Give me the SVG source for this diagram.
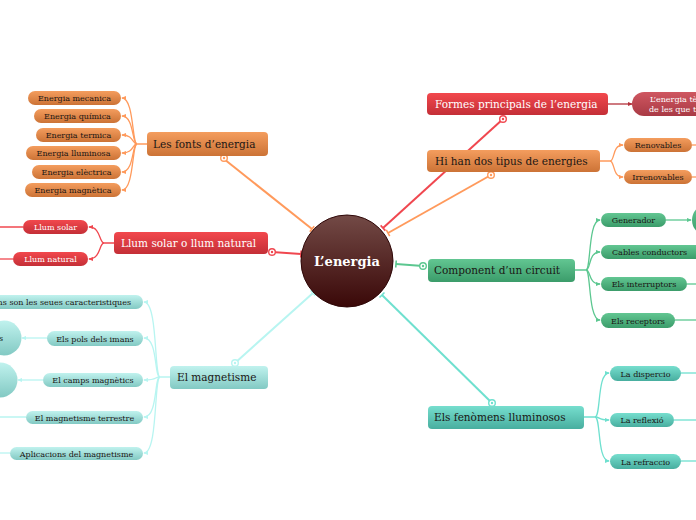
<svg xmlns="http://www.w3.org/2000/svg" width="696" height="520" viewBox="0 0 696 520">
<style>
text{font-family:"DejaVu Serif","Liberation Serif",serif}
.main{font-size:10.5px}
.sm{font-size:8px}
.dk{fill:#1a1614}
.wt{fill:#ffffff}
.ln{fill:none;stroke-width:2}
.br{fill:none;stroke-width:1.3}
.o{stroke:#ff9a5c}
.r{stroke:#f0474f}
.g{stroke:#5cc790}
.t{stroke:#6fe0cf}
.c{stroke:#b8f5f1}
.dr{stroke:#b3323c}
.ring{fill:#fff;stroke-width:1.4}
</style>
<defs>
<linearGradient id="gO" x1="0" y1="0" x2="0" y2="1"><stop offset="0" stop-color="#f49d5e"/><stop offset="1" stop-color="#cc7336"/></linearGradient>
<linearGradient id="gR" x1="0" y1="0" x2="0" y2="1"><stop offset="0" stop-color="#f2484d"/><stop offset="1" stop-color="#c42f37"/></linearGradient>
<linearGradient id="gDR" x1="0" y1="0" x2="0" y2="1"><stop offset="0" stop-color="#cf5761"/><stop offset="1" stop-color="#a93a45"/></linearGradient>
<linearGradient id="gG" x1="0" y1="0" x2="0" y2="1"><stop offset="0" stop-color="#62c692"/><stop offset="1" stop-color="#3b9c6a"/></linearGradient>
<linearGradient id="gT" x1="0" y1="0" x2="0" y2="1"><stop offset="0" stop-color="#76dece"/><stop offset="1" stop-color="#48ae9f"/></linearGradient>
<linearGradient id="gC" x1="0" y1="0" x2="0" y2="1"><stop offset="0" stop-color="#c0f2ee"/><stop offset="1" stop-color="#82c9c3"/></linearGradient>
<linearGradient id="gCirc" x1="0" y1="0" x2="0" y2="1"><stop offset="0" stop-color="#734a46"/><stop offset="1" stop-color="#3a0808"/></linearGradient>
<marker id="tkO" viewBox="0 0 10 10" refX="5" refY="5" markerWidth="10" markerHeight="10" markerUnits="userSpaceOnUse" orient="auto"><path d="M5,1.5V8.5" stroke="#ff9a5c" stroke-width="1.6"/></marker>
<marker id="tkR" viewBox="0 0 10 10" refX="5" refY="5" markerWidth="10" markerHeight="10" markerUnits="userSpaceOnUse" orient="auto"><path d="M5,1.5V8.5" stroke="#f0474f" stroke-width="1.6"/></marker>
<marker id="tkG" viewBox="0 0 10 10" refX="5" refY="5" markerWidth="10" markerHeight="10" markerUnits="userSpaceOnUse" orient="auto"><path d="M5,1.5V8.5" stroke="#5cc790" stroke-width="1.6"/></marker>
<marker id="tkT" viewBox="0 0 10 10" refX="5" refY="5" markerWidth="10" markerHeight="10" markerUnits="userSpaceOnUse" orient="auto"><path d="M5,1.5V8.5" stroke="#6fe0cf" stroke-width="1.6"/></marker>
<marker id="tkC" viewBox="0 0 10 10" refX="5" refY="5" markerWidth="10" markerHeight="10" markerUnits="userSpaceOnUse" orient="auto"><path d="M5,1.5V8.5" stroke="#b8f5f1" stroke-width="1.6"/></marker>
<marker id="aO" viewBox="0 0 6 6" refX="5" refY="3" markerWidth="5" markerHeight="5" markerUnits="userSpaceOnUse" orient="auto"><path d="M0,0.5L6,3L0,5.5z" fill="#ff9a5c"/></marker>
<marker id="aR" viewBox="0 0 6 6" refX="5" refY="3" markerWidth="5" markerHeight="5" markerUnits="userSpaceOnUse" orient="auto"><path d="M0,0.5L6,3L0,5.5z" fill="#f0474f"/></marker>
<marker id="aDR" viewBox="0 0 6 6" refX="5" refY="3" markerWidth="5" markerHeight="5" markerUnits="userSpaceOnUse" orient="auto"><path d="M0,0.5L6,3L0,5.5z" fill="#b3323c"/></marker>
<marker id="aG" viewBox="0 0 6 6" refX="5" refY="3" markerWidth="5" markerHeight="5" markerUnits="userSpaceOnUse" orient="auto"><path d="M0,0.5L6,3L0,5.5z" fill="#5cc790"/></marker>
<marker id="aT" viewBox="0 0 6 6" refX="5" refY="3" markerWidth="5" markerHeight="5" markerUnits="userSpaceOnUse" orient="auto"><path d="M0,0.5L6,3L0,5.5z" fill="#6fe0cf"/></marker>
<marker id="aC" viewBox="0 0 6 6" refX="5" refY="3" markerWidth="5" markerHeight="5" markerUnits="userSpaceOnUse" orient="auto"><path d="M0,0.5L6,3L0,5.5z" fill="#b8f5f1"/></marker>
</defs>
<rect width="696" height="520" fill="#ffffff"/>

<g id="connectors">
  <path class="ln o" d="M224,159L312,229" marker-end="url(#tkO)"/>
  <path class="ln r" d="M272,252L301,254" marker-end="url(#tkR)"/>
  <path class="ln c" d="M235,363L313,293" marker-end="url(#tkC)"/>
  <path class="ln r" d="M503,119L383,228" marker-end="url(#tkR)"/>
  <path class="ln o" d="M491,175L388,233" marker-end="url(#tkO)"/>
  <path class="ln g" d="M423,266L396,264" marker-end="url(#tkG)"/>
  <path class="ln t" d="M492,403L382,295" marker-end="url(#tkT)"/>
  <circle class="ring o" cx="224" cy="158" r="3.3"/><circle cx="224" cy="158" r="1.2" fill="#ff9a5c"/>
  <circle class="ring r" cx="272" cy="252" r="3.3"/><circle cx="272" cy="252" r="1.2" fill="#f0474f"/>
  <circle class="ring c" cx="235" cy="363" r="3.3"/><circle cx="235" cy="363" r="1.2" fill="#b8f5f1"/>
  <circle class="ring r" cx="503" cy="119" r="3.3"/><circle cx="503" cy="119" r="1.2" fill="#f0474f"/>
  <circle class="ring o" cx="491" cy="175" r="3.3"/><circle cx="491" cy="175" r="1.2" fill="#ff9a5c"/>
  <circle class="ring g" cx="423" cy="266" r="3.3"/><circle cx="423" cy="266" r="1.2" fill="#5cc790"/>
  <circle class="ring t" cx="492" cy="403" r="3.3"/><circle cx="492" cy="403" r="1.2" fill="#6fe0cf"/>

  <path class="br o" d="M147,144L137,144C132,144 134,98 122,98" marker-end="url(#aO)"/>
  <path class="br o" d="M137,144C132,144 134,116 122,116" marker-end="url(#aO)"/>
  <path class="br o" d="M137,144C132,144 134,135 122,135" marker-end="url(#aO)"/>
  <path class="br o" d="M137,144C132,144 134,153 122,153" marker-end="url(#aO)"/>
  <path class="br o" d="M137,144C132,144 134,172 122,172" marker-end="url(#aO)"/>
  <path class="br o" d="M137,144C132,144 134,190 122,190" marker-end="url(#aO)"/>

  <path class="br r" d="M114,243L104,243C99,243 101,227 89,227" marker-end="url(#aR)"/>
  <path class="br r" d="M104,243C99,243 101,259 89,259" marker-end="url(#aR)"/>
  <path class="br r" d="M23,227L-10,227"/>
  <path class="br r" d="M13,259L-10,259"/>

  <path class="br c" d="M170,377L160,377C154,377 158,302 144,302" marker-end="url(#aC)"/>
  <path class="br c" d="M160,377C154,377 158,338 144,338" marker-end="url(#aC)"/>
  <path class="br c" d="M160,377C154,377 158,380 144,380" marker-end="url(#aC)"/>
  <path class="br c" d="M160,377C154,377 158,417 144,417" marker-end="url(#aC)"/>
  <path class="br c" d="M160,377C154,377 158,453 144,453" marker-end="url(#aC)"/>
  <path class="br c" d="M47,338L22,338" marker-end="url(#aC)"/>
  <path class="br c" d="M43,380L18,380" marker-end="url(#aC)"/>
  <path class="br c" d="M26,417L-10,417"/>
  <path class="br c" d="M10,453L-10,453"/>

  <path class="br dr" d="M608,104L632,104" marker-end="url(#aDR)"/>

  <path class="br o" d="M600,161L610,161C615,161 612,145 623,145" marker-end="url(#aO)"/>
  <path class="br o" d="M610,161C615,161 612,177 623,177" marker-end="url(#aO)"/>
  <path class="br o" d="M692,145L706,145"/>
  <path class="br o" d="M692,177L706,177"/>

  <path class="br g" d="M575,270L586,270C591,270 588,220 600,220" marker-end="url(#aG)"/>
  <path class="br g" d="M586,270C591,270 588,252 600,252" marker-end="url(#aG)"/>
  <path class="br g" d="M586,270C591,270 588,284 600,284" marker-end="url(#aG)"/>
  <path class="br g" d="M586,270C591,270 588,320 600,320" marker-end="url(#aG)"/>
  <path class="br g" d="M666,220L691,220" marker-end="url(#aG)"/>
  <path class="br g" d="M687,284L706,284"/>
  <path class="br g" d="M675,320L706,320"/>

  <path class="br t" d="M584,417L595,417C601,417 597,373 609,373" marker-end="url(#aT)"/>
  <path class="br t" d="M595,417C601,417 597,420 609,420" marker-end="url(#aT)"/>
  <path class="br t" d="M595,417C601,417 597,461 609,461" marker-end="url(#aT)"/>
  <path class="br t" d="M681,373L706,373"/>
  <path class="br t" d="M674,420L706,420"/>
  <path class="br t" d="M681,461L706,461"/>
</g>

<g id="center">
  <circle cx="347" cy="261" r="46" fill="url(#gCirc)" stroke="#2e0707" stroke-width="1"/>
  <text x="347" y="266" text-anchor="middle" class="wt" style="font-size:13px;font-weight:bold">L’energia</text>
</g>

<g id="fonts">
  <rect x="147" y="132" width="121" height="24" rx="4" fill="url(#gO)"/>
  <text x="153" y="148" class="main dk">Les fonts d’energia</text>
</g>
<g id="fonts-c1"><rect x="28" y="91" width="93" height="14" rx="7" fill="url(#gO)"/><text x="74.5" y="101" text-anchor="middle" class="sm dk">Energia mecanica</text></g>
<g id="fonts-c2"><rect x="34" y="109" width="87" height="14" rx="7" fill="url(#gO)"/><text x="77.5" y="119" text-anchor="middle" class="sm dk">Energia química</text></g>
<g id="fonts-c3"><rect x="36" y="128" width="85" height="14" rx="7" fill="url(#gO)"/><text x="78.5" y="138" text-anchor="middle" class="sm dk">Energia termica</text></g>
<g id="fonts-c4"><rect x="26" y="146" width="95" height="14" rx="7" fill="url(#gO)"/><text x="73.5" y="156" text-anchor="middle" class="sm dk">Energia lluminosa</text></g>
<g id="fonts-c5"><rect x="32" y="165" width="89" height="14" rx="7" fill="url(#gO)"/><text x="76.5" y="175" text-anchor="middle" class="sm dk">Energia elèctrica</text></g>
<g id="fonts-c6"><rect x="25" y="183" width="96" height="14" rx="7" fill="url(#gO)"/><text x="73" y="193" text-anchor="middle" class="sm dk">Energia magnètica</text></g>

<g id="llum">
  <rect x="114" y="232" width="154" height="22" rx="4" fill="url(#gR)"/>
  <text x="121" y="247" class="main wt">Llum solar o llum natural</text>
</g>
<g id="llum-c1"><rect x="23" y="220" width="65" height="14" rx="7" fill="url(#gR)"/><text x="55.5" y="230" text-anchor="middle" class="sm wt">Llum solar</text></g>
<g id="llum-c2"><rect x="13" y="252" width="75" height="14" rx="7" fill="url(#gR)"/><text x="50.5" y="262" text-anchor="middle" class="sm wt">Llum natural</text></g>

<g id="magnetisme">
  <rect x="170" y="366" width="98" height="23" rx="4" fill="url(#gC)"/>
  <text x="177" y="381" class="main dk">El magnetisme</text>
</g>
<g id="mag-c1"><rect x="-60" y="295" width="203" height="14" rx="7" fill="url(#gC)"/><text x="131" y="305" text-anchor="end" class="sm dk">ins son les seues caracteristiques</text></g>
<g id="mag-c2"><rect x="47" y="331" width="96" height="15" rx="7.5" fill="url(#gC)"/><text x="95" y="341.5" text-anchor="middle" class="sm dk">Els pols dels imans</text></g>
<g id="mag-c2a"><circle cx="4" cy="338" r="17.5" fill="url(#gC)"/><text x="-1" y="341" class="sm dk">s</text></g>
<g id="mag-c3"><rect x="43" y="373" width="100" height="14" rx="7" fill="url(#gC)"/><text x="93" y="383" text-anchor="middle" class="sm dk">El camps magnètics</text></g>
<g id="mag-c3a"><circle cx="0" cy="380" r="17.5" fill="url(#gC)"/></g>
<g id="mag-c4"><rect x="26" y="411" width="117" height="13" rx="6.5" fill="url(#gC)"/><text x="84.5" y="420.5" text-anchor="middle" class="sm dk">El magnetisme terrestre</text></g>
<g id="mag-c5"><rect x="10" y="447" width="133" height="13" rx="6.5" fill="url(#gC)"/><text x="76.5" y="456.5" text-anchor="middle" class="sm dk">Aplicacions del magnetisme</text></g>

<g id="formes">
  <rect x="427" y="93" width="181" height="22" rx="4" fill="url(#gR)"/>
  <text x="435" y="108" class="main wt">Formes principals de l’energia</text>
</g>
<g id="formes-c1">
  <rect x="632" y="92" width="110" height="24" rx="12" fill="url(#gDR)"/>
  <text x="650" y="101.5" class="sm wt">L’energia tè</text>
  <text x="649" y="112" class="sm wt">de les que tè</text>
</g>

<g id="tipus">
  <rect x="427" y="150" width="173" height="22" rx="4" fill="url(#gO)"/>
  <text x="435" y="165" class="main dk">Hi han dos tipus de energies</text>
</g>
<g id="tipus-c1"><rect x="624" y="138" width="68" height="14" rx="7" fill="url(#gO)"/><text x="658" y="148" text-anchor="middle" class="sm dk">Renovables</text></g>
<g id="tipus-c2"><rect x="624" y="170" width="68" height="14" rx="7" fill="url(#gO)"/><text x="658" y="180" text-anchor="middle" class="sm dk">Irrenovables</text></g>

<g id="circuit">
  <rect x="428" y="259" width="147" height="23" rx="4" fill="url(#gG)"/>
  <text x="434" y="274" class="main dk">Component d’un circuit</text>
</g>
<g id="circ-c1"><rect x="601" y="213" width="65" height="14" rx="7" fill="url(#gG)"/><text x="633.5" y="223" text-anchor="middle" class="sm dk">Generador</text></g>
<g id="circ-c1a"><circle cx="708" cy="220" r="16" fill="url(#gG)"/></g>
<g id="circ-c2"><rect x="601" y="245" width="105" height="14" rx="7" fill="url(#gG)"/><text x="612" y="255" class="sm dk">Cables conductors</text></g>
<g id="circ-c3"><rect x="601" y="277" width="86" height="14" rx="7" fill="url(#gG)"/><text x="644" y="287" text-anchor="middle" class="sm dk">Els interruptors</text></g>
<g id="circ-c4"><rect x="601" y="313" width="74" height="15" rx="7.5" fill="url(#gG)"/><text x="638" y="323.5" text-anchor="middle" class="sm dk">Els receptors</text></g>

<g id="fenomens">
  <rect x="428" y="406" width="156" height="23" rx="4" fill="url(#gT)"/>
  <text x="434" y="421" class="main dk">Els fenòmens lluminosos</text>
</g>
<g id="fen-c1"><rect x="610" y="366" width="71" height="15" rx="7.5" fill="url(#gT)"/><text x="645.5" y="376.5" text-anchor="middle" class="sm dk">La dispercio</text></g>
<g id="fen-c2"><rect x="610" y="413" width="64" height="14" rx="7" fill="url(#gT)"/><text x="642" y="423" text-anchor="middle" class="sm dk">La reflexió</text></g>
<g id="fen-c3"><rect x="610" y="454" width="71" height="15" rx="7.5" fill="url(#gT)"/><text x="645.5" y="464.5" text-anchor="middle" class="sm dk">La refraccio</text></g>
</svg>
